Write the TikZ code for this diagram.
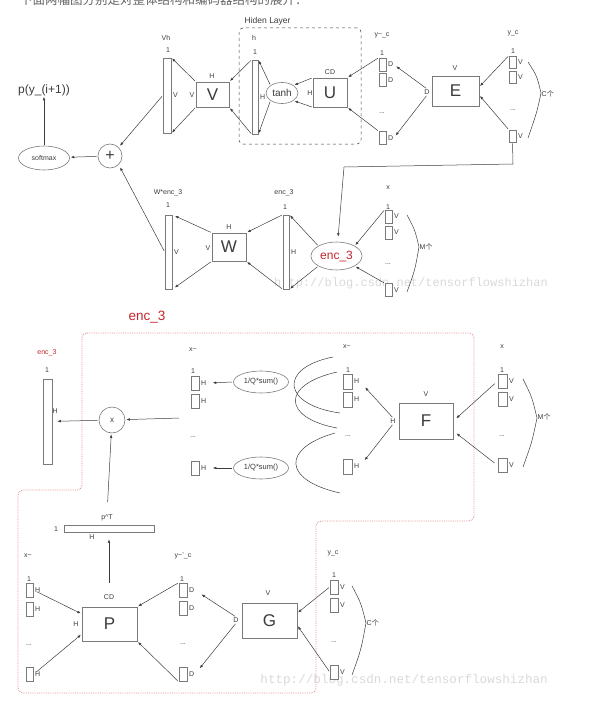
\documentclass[tikz,border=0pt]{standalone}
\usepackage{fontspec}
\setmainfont{Liberation Sans}
\newfontfamily\cjk{Noto Sans CJK SC}
\newfontfamily\wmfont{Liberation Mono}
\usetikzlibrary{arrows.meta,shapes.geometric}
\definecolor{ink}{HTML}{3C3C3C}
\definecolor{edge}{HTML}{7A7A7A}
\definecolor{encred}{HTML}{C4262E}
\definecolor{encpink}{HTML}{E48A90}
\definecolor{wmark}{HTML}{D9D9D9}
\tikzset{
  base/.style={draw=edge,fill=white,line width=0.6pt,inner sep=0pt},
  box/.style={base,text=ink,font=\fontsize{17}{18}\selectfont},
  bar/.style={base},
  cell/.style={base,minimum width=7pt,minimum height=13pt},
  oval/.style={base,ellipse,text=ink},
  lbl/.style={font=\fontsize{7}{8}\selectfont,inner sep=0.5pt,text=ink},
  flow/.style={-{Latex[length=3.5pt,width=2.6pt]},draw=ink,line width=0.5pt,shorten >=1pt,shorten <=1pt},
  brace/.style={draw=ink,line width=0.5pt},
  hidbox/.style={draw=ink,dashed,rounded corners=4pt,line width=0.5pt},
  encbox/.style={draw=encpink,densely dotted,rounded corners=5pt,line width=0.8pt},
  wm/.style={font=\wmfont\fontsize{12}{12}\selectfont,text=wmark,inner sep=0pt}
}
\begin{document}
\begin{tikzpicture}[x=1pt,y=-1pt,label distance=1pt]
\useasboundingbox (0,0) rectangle (591,709);
\node[anchor=base west,text=ink!80,font=\cjk\fontsize{12.5}{13}\selectfont,inner sep=0pt] (intro) at (20,5) {下面两幅图分别是对整体结构和编码器结构的展开：};
\node[wm,anchor=base east] (wm1) at (548,286) {http://blog.csdn.net/tensorflowshizhan};
\node[wm,anchor=base east,font=\wmfont\fontsize{12.6}{13}\selectfont] (wm2) at (548,683) {http://blog.csdn.net/tensorflowshizhan};

\node[hidbox,minimum width=122pt,minimum height=116pt] (hidden) at (300,86) {};
\node[lbl,anchor=west,font=\fontsize{8.5}{9}\selectfont] (hidlbl) at (244,21) {Hiden Layer};
\node[text=ink,font=\fontsize{12}{13}\selectfont,inner sep=0pt] (pnext) at (44,90) {p(y\_(i+1))};
\node[oval,minimum width=51pt,minimum height=24pt,font=\fontsize{7}{8}\selectfont] (softmax) at (44,158) {softmax};
\node[base,circle,minimum size=24pt,text=ink,font=\fontsize{16}{16}\selectfont] (plus) at (110,156) {+};

\node[bar,minimum width=8pt,minimum height=75pt,label={[lbl]right:V}] (vhbar) at (167,95.5) {};
\node[lbl] (vhlbl) at (166,38) {Vh};
\node[lbl] (vhone) at (168,50) {1};
\node[box,minimum width=33pt,minimum height=25pt] (vbox) at (212.5,94.5) {V};
\node[lbl] (vboxh) at (212,76) {H};
\node[lbl] (vboxv) at (192,95) {V};
\node[bar,minimum width=6pt,minimum height=74pt,label={[lbl]right:H}] (hbar) at (255,97) {};
\node[lbl] (hlbl) at (254,38) {h};
\node[lbl] (hone) at (255,52) {1};
\node[oval,minimum width=32pt,minimum height=21pt,font=\fontsize{10}{11}\selectfont] (tanh) at (282,93) {tanh};
\node[box,minimum width=34pt,minimum height=29pt] (ubox) at (330,92.5) {U};
\node[lbl] (ucd) at (330,72) {CD};
\node[lbl] (uh) at (310,93) {H};

\node[lbl] (ytclbl) at (382,35) {y\textasciitilde\_c};
\node[lbl] (ytcone) at (382,53) {1};
\node[cell,label={[lbl,name=ytc1d]right:D}] (ytc1) at (382.5,64.5) {};
\node[cell,label={[lbl]right:D}] (ytc2) at (382.5,80) {};
\node[lbl] (ytcdots) at (382,113) {...};
\node[cell,label={[lbl,name=ytc3d]right:D}] (ytc3) at (382.5,138) {};
\node[box,minimum width=47pt,minimum height=30pt] (ebox) at (455.5,91) {E};
\node[lbl] (ev) at (455,68) {V};
\node[lbl] (ed) at (427,92) {D};
\node[lbl] (ycclbl) at (513,33) {y\_c};
\node[lbl] (yccone) at (513,51) {1};
\node[cell,minimum height=12pt,label={[lbl]right:V}] (ycc1) at (512.5,62) {};
\node[cell,minimum height=12pt,label={[lbl]right:V}] (ycc2) at (512.5,77.5) {};
\node[lbl] (yccdots) at (513,110) {...};
\node[cell,minimum height=12pt,label={[lbl]right:V}] (ycc3) at (512.5,136) {};
\draw[brace] (528,62) .. controls (537,76) .. (541,93) .. controls (537,112) .. (528,138);
\node[lbl,anchor=west] (ccount) at (541,94) {C{\cjk 个}};

\node[bar,minimum width=7pt,minimum height=74pt,label={[lbl]right:V}] (wbar) at (168.5,252) {};
\node[lbl] (wbarlbl) at (168,193) {W*enc\_3};
\node[lbl] (wbarone) at (168,205) {1};
\node[box,minimum width=34pt,minimum height=28pt] (wbox) at (229,247) {W};
\node[lbl] (wboxh) at (229,227) {H};
\node[lbl] (wboxv) at (208,248) {V};
\node[bar,minimum width=6pt,minimum height=74pt,label={[lbl]right:H}] (ebar) at (286,252) {};
\node[lbl] (ebarlbl) at (284,193) {enc\_3};
\node[lbl] (ebarone) at (285,207) {1};
\node[oval,minimum width=51pt,minimum height=28pt,text=encred,font=\fontsize{12}{13}\selectfont] (encell) at (336.5,256) {enc\_3};
\node[lbl] (xclbl) at (388,188) {x};
\node[lbl] (xcone) at (388,207) {1};
\node[cell,label={[lbl]right:V}] (xc1) at (388.5,216.5) {};
\node[cell,label={[lbl]right:V}] (xc2) at (388.5,232.5) {};
\node[lbl] (xcdots) at (388,264) {...};
\node[cell,label={[lbl]right:V}] (xc3) at (388.5,290) {};
\draw[brace] (407,215) .. controls (415,230) .. (419,247) .. controls (415,270) .. (407,292);
\node[lbl,anchor=west] (mcount) at (419,247) {M{\cjk 个}};
\coordinate (turnA) at (513,164);
\coordinate (turnB) at (344,167);

\draw[flow] (vbox.north west) -- (vhbar.north east);
\draw[flow] (vbox.south west) -- (vhbar.south east);
\draw[flow] (hbar.north west) -- (vbox.north east);
\draw[flow] (hbar.south west) -- (vbox.south east);
\draw[flow] (tanh.north west) -- (hbar.north east);
\draw[flow] (tanh.south west) -- (hbar.south east);
\draw[flow] (ubox.north west) -- (tanh.north east);
\draw[flow] (ubox.south west) -- (tanh.south east);
\draw[flow] (ytc1.north west) -- (ubox.north east);
\draw[flow] (ytc3.north west) -- (ubox.south east);
\draw[flow,shorten >=3pt] (ed.north) -- (ytc1d.east);
\draw[flow,shorten >=3pt] (ed.south) -- (ytc3d.east);
\draw[flow] (ycc1.north west) -- (ebox.10);
\draw[flow] (ycc3.north west) -- (ebox.-10);
\draw[flow,shorten >=2pt] (vhbar.west) -- (plus.north east);
\draw[flow,shorten >=3pt] (wbar.west) -- (plus.south east);
\draw[flow] (plus) -- (softmax);
\draw[flow] (softmax) -- (pnext);
\draw[flow,shorten >=3pt] (wbox.north west) -- (wbar.north east);
\draw[flow,shorten >=3pt] (wbox.south west) -- (wbar.south east);
\draw[flow] (ebar.north west) -- (wbox.north east);
\draw[flow] (ebar.south west) -- (wbox.south east);
\draw[flow] (encell.north west) -- (ebar.north east);
\draw[flow] (encell.south west) -- (ebar.south east);
\draw[flow] (xc1.north west) -- (encell.north east);
\draw[flow] (xc3.north west) -- (encell.south east);
\draw[flow,shorten >=5pt] (ycc3.south) -- (turnA) -- (turnB) -- (encell);

\node[text=encred,font=\fontsize{13.5}{14}\selectfont,inner sep=0pt] (enchead) at (147,317) {enc\_3};
\draw[encbox] (82,333) -- (474,333) -- (474,521) -- (316,521) -- (316,693) -- (18,693) -- (18,490) -- (82,490) -- cycle;

\node[lbl,text=encred] (enclbl) at (47,353) {enc\_3};
\node[lbl] (encone) at (47,370) {1};
\node[bar,minimum width=9pt,minimum height=85pt] (encbar) at (47.5,421.5) {};
\node[lbl,anchor=west] (encbarh) at (52,411) {H};
\node[base,circle,minimum size=26pt,text=ink,font=\fontsize{8}{9}\selectfont] (times) at (112,420) {x};
\node[bar,minimum width=90pt,minimum height=7pt] (ptbar) at (109,528.5) {};
\node[lbl] (ptone) at (56,529) {1};
\node[lbl] (pth) at (92,537) {H};
\node[lbl] (ptlbl) at (107,518) {p\textasciicircum T};

\node[lbl] (xllbl) at (193,350) {x\textasciitilde};
\node[lbl] (xlone) at (193,371) {1};
\node[cell,minimum width=8pt,minimum height=14pt,label={[lbl,name=xl1h]right:H}] (xl1) at (195,383) {};
\node[cell,minimum width=8pt,minimum height=14pt,label={[lbl]right:H}] (xl2) at (195,401) {};
\node[lbl] (xldots) at (193,437) {...};
\node[cell,minimum width=8pt,minimum height=14pt,label={[lbl,name=xl3h]right:H}] (xl3) at (195,468) {};
\node[oval,minimum width=55pt,minimum height=22pt,font=\fontsize{7.5}{8}\selectfont] (q1) at (261,382) {1/Q*sum()};
\node[oval,minimum width=55pt,minimum height=22pt,font=\fontsize{7.5}{8}\selectfont] (q2) at (261,468) {1/Q*sum()};
\draw[brace] (333,357) .. controls (278,368) and (282,405) .. (340,413);
\draw[brace] (337,372) .. controls (280,385) and (283,418) .. (337,428);
\draw[brace] (335,433) .. controls (282,448) and (282,480) .. (340,493);

\node[lbl] (xmlbl) at (347,347) {x\textasciitilde};
\node[lbl] (xmone) at (348,370) {1};
\node[cell,minimum width=9pt,minimum height=15pt,label={[lbl,name=xm1h]right:H}] (xm1) at (347.5,381.5) {};
\node[cell,minimum width=9pt,minimum height=15pt,label={[lbl]right:H}] (xm2) at (347.5,399.5) {};
\node[lbl] (xmdots) at (348,436) {...};
\node[cell,minimum width=9pt,minimum height=15pt,label={[lbl,name=xm3h]right:H}] (xm3) at (347.5,466.5) {};
\node[box,minimum width=54pt,minimum height=36pt] (fbox) at (426,421) {F};
\node[lbl] (fv) at (426,394) {V};
\node[lbl] (fh) at (393,421) {H};
\node[lbl] (xrlbl) at (502,347) {x};
\node[lbl] (xrone) at (502,370) {1};
\node[cell,minimum width=9pt,minimum height=14pt,label={[lbl]right:V}] (xr1) at (502.5,381) {};
\node[cell,minimum width=9pt,minimum height=14pt,label={[lbl]right:V}] (xr2) at (502.5,399) {};
\node[lbl] (xrdots) at (502,436) {...};
\node[cell,minimum width=9pt,minimum height=14pt,label={[lbl]right:V}] (xr3) at (502.5,465.5) {};
\draw[brace] (523,379) .. controls (532,397) .. (537,418) .. controls (532,442) .. (523,467);
\node[lbl,anchor=west] (mcountb) at (537,417) {M{\cjk 个}};

\node[lbl] (xslbl) at (28,556) {x\textasciitilde};
\node[lbl] (xsone) at (29,579) {1};
\node[cell,minimum height=14pt,label={[lbl]right:H}] (xs1) at (29.5,590) {};
\node[cell,minimum height=14pt,label={[lbl]right:H}] (xs2) at (29.5,609) {};
\node[lbl] (xsdots) at (29,645) {...};
\node[cell,minimum height=14pt,label={[lbl]right:H}] (xs3) at (29.5,674.5) {};
\node[box,minimum width=55pt,minimum height=34pt] (pbox) at (109.5,624) {P};
\node[lbl] (pcd) at (109,597) {CD};
\node[lbl] (ph) at (76,624) {H};
\node[lbl] (yslbl) at (183,556) {y\textasciitilde'\_c};
\node[lbl] (ysone) at (182,579) {1};
\node[cell,minimum width=8pt,minimum height=14pt,label={[lbl,name=ys1d]right:D}] (ys1) at (183,590) {};
\node[cell,minimum width=8pt,minimum height=14pt,label={[lbl]right:D}] (ys2) at (183,608) {};
\node[lbl] (ysdots) at (183,644) {...};
\node[cell,minimum width=8pt,minimum height=14pt,label={[lbl,name=ys3d]right:D}] (ys3) at (183,674.5) {};
\node[box,minimum width=55pt,minimum height=35pt] (gbox) at (269.5,620.5) {G};
\node[lbl] (gv) at (268,593) {V};
\node[lbl] (gd) at (236,620) {D};
\node[lbl] (yblbl) at (333,553) {y\_c};
\node[lbl] (ybone) at (334,575) {1};
\node[cell,minimum width=8pt,minimum height=14pt,label={[lbl]right:V}] (yb1) at (334,587) {};
\node[cell,minimum width=8pt,minimum height=14pt,label={[lbl]right:V}] (yb2) at (334,605.5) {};
\node[lbl] (ybdots) at (334,642) {...};
\node[cell,minimum width=8pt,minimum height=14pt,label={[lbl]right:V}] (yb3) at (334,672) {};
\draw[brace] (352,586) .. controls (361,603) .. (366,623) .. controls (361,650) .. (352,675);
\node[lbl,anchor=west] (ccountb) at (366,623) {C{\cjk 个}};
\coordinate (xin) at (180,418);

\draw[flow,shorten >=6pt] (q1.west) -- (xl1h.east);
\draw[flow,shorten >=6pt] (q2.west) -- (xl3h.east);
\draw[flow,shorten >=8pt] (fh.north) -- (xm1h.east);
\draw[flow,shorten >=8pt] (fh.south) -- (xm3h.east);
\draw[flow,shorten >=4pt,shorten <=4pt] (xr1.west) -- (fbox.east);
\draw[flow,shorten >=4pt,shorten <=4pt] (xr3.west) -- (fbox.-20);
\draw[flow] (xin) -- (times);
\draw[flow,shorten >=5pt] (times) -- (encbar);
\draw[flow,shorten <=12pt] (ptlbl.north) -- (times);
\draw[flow,shorten <=11pt,shorten >=7pt] (pcd.north) -- (ptbar.south);
\draw[flow,shorten <=4pt] (xs1.east) -- (pbox.160);
\draw[flow,shorten <=4pt] (xs3.east) -- (pbox.200);
\draw[flow] (ys1.north west) -- (pbox.north east);
\draw[flow] (ys3.south west) -- (pbox.south east);
\draw[flow,shorten >=8pt] (gd.north) -- (ys1d.east);
\draw[flow,shorten >=8pt] (gd.south) -- (ys3d.east);
\draw[flow] (yb1.west) -- (gbox.15);
\draw[flow] (yb3.west) -- (gbox.-10);
\end{tikzpicture}
\end{document}
